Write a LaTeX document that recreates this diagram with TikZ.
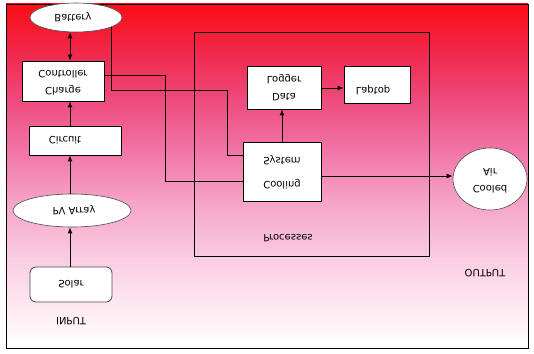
\documentclass[tikz,border=0pt]{standalone}
\usepackage{fontspec}
\setmainfont{DejaVu Sans}
\usepackage{graphicx}
\usetikzlibrary{shapes.geometric,arrows.meta}
\newcommand{\fl}[1]{\scalebox{1}[-1]{#1}}
\pgfdeclareverticalshading{bgshade}{100bp}{rgb(0bp)=(1,1,1); rgb(25bp)=(1,1,1); rgb(28bp)=(1,.96,.973); rgb(38bp)=(.98,.804,.882); rgb(46bp)=(.965,.647,.784); rgb(53bp)=(.949,.471,.667); rgb(61bp)=(.933,.294,.49); rgb(68bp)=(.941,.157,.294); rgb(75bp)=(.988,.047,.086); rgb(100bp)=(.988,.047,.086)}
\tikzset{
  box/.style={draw=black, fill=white, line width=0.8pt, inner sep=0pt},
  oval/.style={ellipse, draw=black!70, fill=white, line width=0.6pt, inner sep=0pt},
  wire/.style={line width=1pt, draw=black},
  arr/.style={wire, -{Latex[length=6pt,width=5pt]}},
  lbl/.style={inner sep=0pt, align=center},
}
\begin{document}
\begin{tikzpicture}[x=1pt,y=-1pt, every node/.style={font=\fontsize{10}{12}\selectfont}]
\useasboundingbox (0,0) rectangle (534,353);
\fill[white] (0,0) rectangle (534,353);
\shade[shading=bgshade] (6,4) rectangle (528,348);
\draw[line width=0.8pt] (6,4) rectangle (528,348);

% process frame
\node[draw=black, line width=0.8pt, minimum width=235, minimum height=224, inner sep=0pt] (proc) at (311.5,144) {};
\node[lbl] (proclbl) at (288,238) {\fl{Processes}};

% input column
\node[oval, minimum width=92, minimum height=29] (battery) at (76,17.5) {\fl{Battery\hspace{6pt}}};
\node[box, minimum width=82, minimum height=40] (ctrl) at (63,81) {\fl{\begin{tabular}{@{}c@{}}Charge\\[5pt]Controller\end{tabular}}};
\node[box, minimum width=92, minimum height=29] (circuit) at (75,140.5) {\fl{Circuit\hspace{20pt}}};
\node[oval, minimum width=118, minimum height=33] (pv) at (72,210.5) {\fl{\hspace{4pt}PV Array}};
\node[box, draw=black!70, rounded corners=6pt, minimum width=82, minimum height=35] (solar) at (71,284.5) {\fl{Solar}};
\node[lbl] (input) at (71,321) {\fl{INPUT}};

% process nodes
\node[box, minimum width=74, minimum height=43] (logger) at (284,87.5) {\fl{\begin{tabular}{@{}c@{}}Data\\[5pt]Logger\end{tabular}}};
\node[box, minimum width=66, minimum height=37] (laptop) at (377,84.5) {\fl{\raisebox{13pt}{Laptop}\hspace{8pt}}};
\node[box, minimum width=78, minimum height=59] (cooling) at (282,172) {\fl{\begin{tabular}{@{}c@{}}Cooling\\[12pt]System\end{tabular}}};

% output
\node[oval, minimum width=74, minimum height=62] (air) at (490,179) {\fl{\begin{tabular}{@{}c@{}}Cooled\\[5pt]Air\end{tabular}}};
\node[lbl] (output) at (485,273) {\fl{OUTPUT}};

% helper coordinates
\coordinate (colx) at (70,0);
\coordinate (ay) at (0,176);
\coordinate (cy1) at (0,75);
\coordinate (cy2) at (0,181);
\coordinate (by1) at (0,90);
\coordinate (by2) at (0,155);

% connectors
\draw[arr, {Latex[length=6pt,width=5pt]}-{Latex[length=6pt,width=5pt]}] (battery.south -| colx) -- (ctrl.north -| colx);
\draw[arr] (circuit.north -| colx) -- (ctrl.south -| colx);
\draw[arr] (pv.north -| colx) -- (circuit.south -| colx);
\draw[arr] (solar.north -| colx) -- (pv.south -| colx);

\draw[arr] (cooling.north) -- (cooling.north |- logger.south);
\draw[arr] (logger.east |- 0,88) -- (laptop.west |- 0,88);
\draw[arr] (cooling.east |- ay) -- (air.west |- ay);

\draw[wire] (ctrl.east |- cy1) -- (165,75) -- (165,181) -- (cooling.west |- cy2);
\draw[wire] (battery.-15) -- (battery.-15 |- by1) -- (227,90) -- (227,155) -- (cooling.west |- by2);
\end{tikzpicture}
\end{document}
